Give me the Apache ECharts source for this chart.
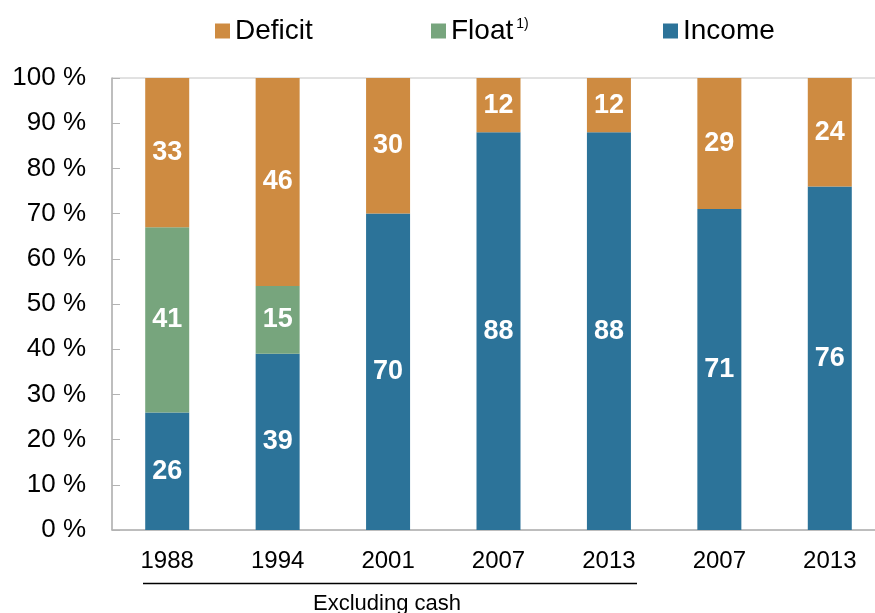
<!DOCTYPE html>
<html>
<head>
<meta charset="utf-8">
<script src="https://cdn.jsdelivr.net/npm/echarts@6/dist/echarts.min.js"></script>
<style>
  html, body { margin: 0; padding: 0; background: #fff; }
  #chart { width: 875px; height: 613px; }
</style>
</head>
<body>
<div id="chart"></div>
<script>
  // categories and values (percent)
  const years = ['1988', '1994', '2001', '2007', '2013', '2007', '2013']
  const income = [26, 39, 70, 88, 88, 71, 76]
  const float = [41, 15, null, null, null, null, null]
  const deficit = [33, 46, 30, 12, 12, 29, 24]
  const yTicks = { min: 0, max: 100, interval: 10 }

  const FONT = '"Liberation Sans", Arial, sans-serif'
  const AXIS_GREY = '#b3b3b3'

  /*公共数值标签*/
  const barLabel = {
    show: true,
    position: 'inside',
    color: '#fff',
    fontWeight: 'bold',
    fontSize: 27,
    fontFamily: FONT,
    formatter: p => (p.value == null ? '' : p.value)
  }

  const barSeries = (name, data, color) => ({
    name: name,
    type: 'bar',
    stack: 'total',
    barWidth: 44,
    data: data,
    itemStyle: { color: color },
    label: barLabel,
    emphasis: { disabled: true }
  })

  const legendItem = (name, left) => ({
    data: [name],
    left: left,
    top: 17,
    padding: 0,
    itemWidth: 15,
    itemHeight: 15,
    icon: 'rect',
    selectedMode: false,
    textStyle: {
      fontSize: 28,
      fontFamily: FONT,
      color: '#000',
      rich: {
        sup: { fontSize: 14, fontFamily: FONT, color: '#000', padding: [0, 0, 14, 3] }
      }
    },
    formatter: n => (n === 'Float' ? 'Float{sup|1)}' : n)
  })

  const chart = echarts.init(document.getElementById('chart'))
  chart.setOption({
    animation: false,
    textStyle: { fontFamily: FONT },
    legend: [
      legendItem('Deficit', 215),
      legendItem('Float', 431),
      legendItem('Income', 663)
    ],
    grid: {
      left: 112,
      width: 773,
      top: 78,
      height: 452,
      outerBoundsMode: 'none',
      containLabel: false,
      show: true,
      borderColor: '#c4c4c4',
      borderWidth: 1
    },
    xAxis: {
      type: 'category',
      data: years,
      axisLine: { lineStyle: { color: AXIS_GREY, width: 1.5 } },
      axisTick: { inside: true, length: 7, lineStyle: { color: AXIS_GREY } },
      axisLabel: { fontSize: 24, color: '#000', margin: 19, fontFamily: FONT }
    },
    yAxis: {
      type: 'value',
      min: yTicks.min,
      max: yTicks.max,
      interval: yTicks.interval,
      axisLine: { show: true, lineStyle: { color: AXIS_GREY, width: 1.5 } },
      axisTick: { show: true, inside: true, length: 8, lineStyle: { color: AXIS_GREY } },
      splitLine: { show: false },
      axisLabel: { fontSize: 26, color: '#000', margin: 26, formatter: '{value} %', fontFamily: FONT }
    },
    series: [
      barSeries('Income', income, '#2c7399'),
      barSeries('Float', float, '#77a57d'),
      barSeries('Deficit', deficit, '#ce8b41')
    ],
    graphic: [
      {
        type: 'line',
        shape: { x1: 143, y1: 583.5, x2: 637, y2: 583.5 },
        style: { stroke: '#000', lineWidth: 1.5 }
      },
      {
        type: 'text',
        left: 313,
        top: 593,
        style: { text: 'Excluding cash', fontSize: 22, fontFamily: FONT, fill: '#000' }
      }
    ]
  })
</script>
</body>
</html>
